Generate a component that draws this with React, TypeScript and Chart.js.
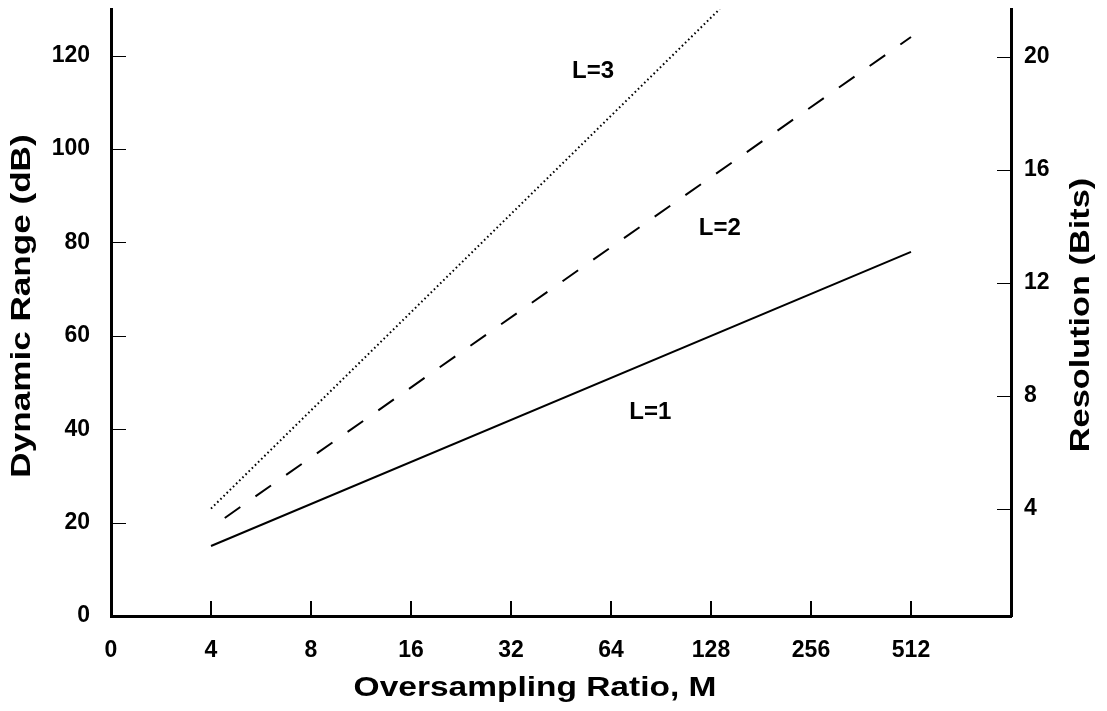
import React, { useEffect, useRef } from 'react';
import { Chart, registerables } from 'chart.js';

Chart.register(...registerables);

// ---- data ----
const xTickLabels = ['0', '4', '8', '16', '32', '64', '128', '256', '512'];
const yTicks = [0, 20, 40, 60, 80, 100, 120];
const y1Ticks = [4, 8, 12, 16, 20];

const l1M = [4, 512];
const l1dB = [15, 78];
const l2M = [4.4, 512];
const l2dB = [21, 124];
const l3M = [4, 136];
const l3dB = [23, 130];

const annotationText = ['L=1', 'L=2', 'L=3'];
const annotationM = [84, 136, 56.5];
const annotationdB = [43.6, 83, 116.6];

const xTitle = 'Oversampling Ratio, M';
const yTitle = 'Dynamic Range (dB)';
const y1Title = 'Resolution (Bits)';

const FONT = "'Liberation Sans', Arial, Helvetica, sans-serif";
const toPos = (m: number) => Math.log2(m) - 1;
const pts = (ms: number[], ds: number[]) => ms.map((m, i) => ({ x: toPos(m), y: ds[i] }));

function drawStretched(ctx: CanvasRenderingContext2D, text: string, cx: number, cy: number, rot: number, sx: number, size: number) {
  ctx.save();
  ctx.translate(cx, cy);
  ctx.rotate(rot);
  ctx.scale(sx, 1);
  ctx.font = `bold ${size}px ${FONT}`;
  ctx.textAlign = 'center';
  ctx.textBaseline = 'middle';
  ctx.fillStyle = '#000';
  ctx.fillText(text, 0, 0);
  ctx.restore();
}

const decor = {
  id: 'decor',
  afterDraw(chart: any) {
    const { ctx, chartArea: ca, scales } = chart;
    const x = scales.x, y = scales.y, y1 = scales.y1;
    ctx.save();
    ctx.strokeStyle = '#000';
    ctx.lineWidth = 1;
    yTicks.forEach((v) => {
      if (v === 0) return;
      const py = Math.round(y.getPixelForValue(v)) + 0.5;
      ctx.beginPath();
      ctx.moveTo(ca.left + 1, py);
      ctx.lineTo(ca.left + 15, py);
      ctx.stroke();
    });
    y1Ticks.forEach((v) => {
      const py = Math.round(y1.getPixelForValue(v)) + 0.5;
      ctx.beginPath();
      ctx.moveTo(ca.right - 14, py);
      ctx.lineTo(ca.right - 1, py);
      ctx.stroke();
    });
    ctx.lineWidth = 2;
    xTickLabels.forEach((_, i) => {
      if (i === 0) return;
      const px = Math.round(x.getPixelForValue(i));
      ctx.beginPath();
      ctx.moveTo(px, ca.bottom - 15);
      ctx.lineTo(px, ca.bottom - 1);
      ctx.stroke();
    });
    ctx.fillStyle = '#000';
    ctx.font = `bold 24px ${FONT}`;
    ctx.textAlign = 'center';
    ctx.textBaseline = 'middle';
    annotationText.forEach((t, i) => {
      ctx.fillText(t, x.getPixelForValue(toPos(annotationM[i])), y.getPixelForValue(annotationdB[i]));
    });
    drawStretched(ctx, xTitle, 535, 688.5, 0, 1.24, 27);
    drawStretched(ctx, yTitle, 22.5, 306, -Math.PI / 2, 1.3, 27);
    drawStretched(ctx, y1Title, 1082, 315, -Math.PI / 2, 1.27, 27);
    ctx.restore();
  },
};

const noPadV = (s: any) => { s.paddingTop = 0; s.paddingBottom = 0; };
const noPadH = (s: any) => { s.paddingLeft = 0; s.paddingRight = 0; };

export default function App() {
  const ref = useRef<HTMLCanvasElement | null>(null);
  useEffect(() => {
    if (!ref.current) return;
    const tickFont = { family: FONT, size: 23, weight: 'bold' as const };
    const chart = new Chart(ref.current, {
      type: 'line',
      data: {
        datasets: [
          { label: 'L=1', data: pts(l1M, l1dB), borderColor: '#000', borderWidth: 2, pointRadius: 0, yAxisID: 'y', xAxisID: 'x' },
          { label: 'L=2', data: pts(l2M, l2dB), borderColor: '#000', borderWidth: 2, borderDash: [19, 18.5], pointRadius: 0, yAxisID: 'y', xAxisID: 'x' },
          { label: 'L=3', data: pts(l3M, l3dB), borderColor: '#000', borderWidth: 2, borderDash: [1.6, 2.8], pointRadius: 0, yAxisID: 'y', xAxisID: 'x' },
        ],
      },
      options: {
        animation: false,
        responsive: false,
        maintainAspectRatio: false,
        layout: { padding: { top: 9, left: 0, right: 0, bottom: 0 } },
        plugins: { legend: { display: false }, tooltip: { enabled: false }, title: { display: false } },
        scales: {
          x: {
            type: 'linear',
            position: 'bottom',
            min: 0,
            max: 9,
            afterBuildTicks: (s: any) => { s.ticks = xTickLabels.map((_, i) => ({ value: i })); },
            afterFit: (s: any) => { s.height = 95; noPadH(s); },
            ticks: { callback: (v: any) => xTickLabels[v as number] ?? '', color: '#000', font: tickFont, padding: 21, maxRotation: 0, autoSkip: false },
            grid: { display: true, drawOnChartArea: false, drawTicks: false },
            border: { display: true, width: 3, color: '#000' },
          },
          y: {
            type: 'linear',
            position: 'left',
            min: 0,
            max: 130,
            afterBuildTicks: (s: any) => { s.ticks = yTicks.map((v) => ({ value: v })); },
            afterFit: (s: any) => { s.width = 111; noPadV(s); },
            ticks: { color: '#000', font: tickFont, padding: 21 },
            grid: { display: true, drawOnChartArea: false, drawTicks: false },
            border: { display: true, width: 3, color: '#000' },
          },
          y1: {
            type: 'linear',
            position: 'right',
            min: 0.22,
            max: 21.69,
            afterBuildTicks: (s: any) => { s.ticks = y1Ticks.map((v) => ({ value: v })); },
            afterFit: (s: any) => { s.width = 96; noPadV(s); },
            ticks: { color: '#000', font: tickFont, padding: 13 },
            grid: { display: true, drawOnChartArea: false, drawTicks: false },
            border: { display: true, width: 3, color: '#000' },
          },
        },
      },
      plugins: [decor],
    });
    return () => chart.destroy();
  }, []);
  return (
    <div style={{ position: 'fixed', left: 0, top: 0, width: 1107, height: 711, background: '#fff' }}>
      <canvas ref={ref} width={1107} height={711} style={{ display: 'block', width: 1107, height: 711 }} />
    </div>
  );
}
